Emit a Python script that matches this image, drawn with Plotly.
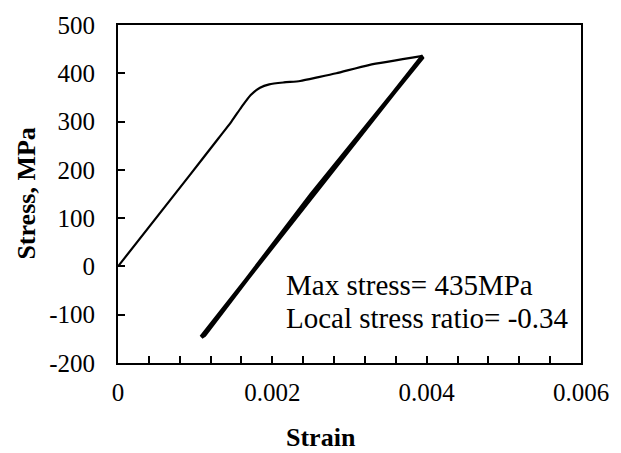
import plotly.graph_objects as go

# Monotonic loading curve (strain, stress in MPa)
load_strain = [0, 0.00092, 0.00130, 0.00147, 0.00160, 0.00172, 0.00184, 0.00196,
               0.00215, 0.00236, 0.00260, 0.00283, 0.00325, 0.00395]
load_stress = [0, 187, 265, 300, 330, 355, 370, 377, 381, 384, 392, 400, 417, 436]

# Cyclic unloading / reloading loop
cyc_strain = [0.00395, 0.00250, 0.00108, 0.00112, 0.00250, 0.00395]
cyc_stress = [436, 143, -146, -142, 148, 434]

x_ticks = [0, 0.002, 0.004, 0.006]
x_ticklabels = ["0", "0.002", "0.004", "0.006"]
y_ticks = [-200, -100, 0, 100, 200, 300, 400, 500]
y_ticklabels = ["-200", "-100", "0", "100", "200", "300", "400", "500"]

note_lines = ["Max stress= 435MPa", "Local stress ratio= -0.34"]

FONT = "Times New Roman, Liberation Serif, serif"

fig = go.Figure()
fig.add_trace(go.Scatter(x=cyc_strain, y=cyc_stress, mode="lines",
                         line=dict(color="black", width=4.2), showlegend=False))
fig.add_trace(go.Scatter(x=load_strain, y=load_stress, mode="lines",
                         line=dict(color="black", width=2.2, shape="spline", smoothing=0.6),
                         showlegend=False))

fig.update_layout(
    width=621, height=453,
    margin=dict(l=118, r=32, t=23, b=90),
    paper_bgcolor="white", plot_bgcolor="white",
    font=dict(family=FONT, color="black", size=25),
    xaxis=dict(range=[0, 0.006], tickmode="array", tickvals=x_ticks, ticktext=x_ticklabels,
               ticks="inside", ticklen=7, tickwidth=1.5, tickcolor="black",
               showline=True, linecolor="black", linewidth=2, mirror=True,
               showgrid=False, zeroline=False, ticklabelstandoff=6,
               minor=dict(dtick=0.0004, ticks="inside", ticklen=7, tickwidth=1.5,
                          tickcolor="black", showgrid=False),
               tickfont=dict(size=25, family=FONT)),
    yaxis=dict(range=[-200, 500], tickmode="array", tickvals=y_ticks, ticktext=y_ticklabels,
               ticks="inside", ticklen=7, tickwidth=1.5, tickcolor="black",
               showline=True, linecolor="black", linewidth=2, mirror=True,
               showgrid=False, zeroline=False, ticklabelstandoff=16,
               tickfont=dict(size=25, family=FONT)),
)

fig.add_annotation(x=0.4395, y=-0.22, xref="paper", yref="paper", text="<b>Strain</b>",
                   showarrow=False, xanchor="center", yanchor="middle",
                   font=dict(size=26, family=FONT))
fig.add_annotation(x=-0.1996, y=0.5, xref="paper", yref="paper", text="<b>Stress, MPa</b>",
                   showarrow=False, xanchor="center", yanchor="middle", textangle=-90,
                   font=dict(size=26, family=FONT))
fig.add_annotation(x=0.00215, y=-39, text=note_lines[0], showarrow=False,
                   xanchor="left", yanchor="middle", font=dict(size=29, family=FONT))
fig.add_annotation(x=0.00215, y=-107, text=note_lines[1], showarrow=False,
                   xanchor="left", yanchor="middle", font=dict(size=29, family=FONT))

fig.write_html("out.html")
